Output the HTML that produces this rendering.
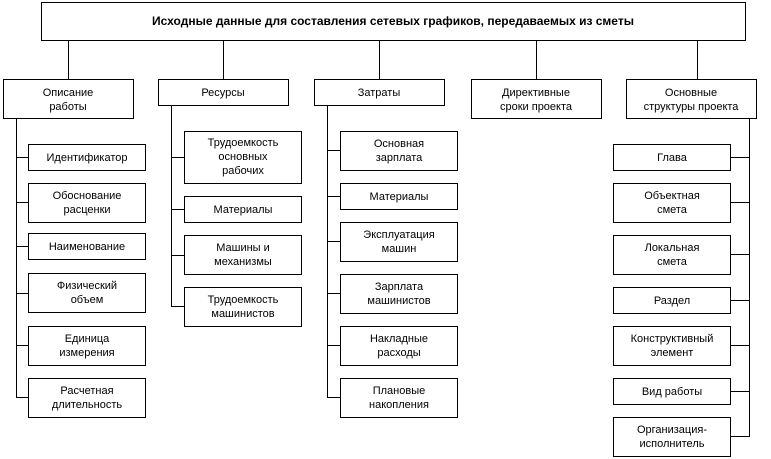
<!DOCTYPE html>
<html><head><meta charset="utf-8"><style>
html,body{margin:0;padding:0;background:#fff;}
svg{display:block;}
text{font-family:"Liberation Sans",Arial,sans-serif;font-size:11px;fill:#000;text-anchor:middle;}
rect{fill:#fff;stroke:#000;stroke-width:1;}
line{stroke:#000;stroke-width:1;}
</style></head><body>
<svg width="771" height="459" viewBox="0 0 771 459" xmlns="http://www.w3.org/2000/svg">
<rect x="41.5" y="2.5" width="704" height="38"/>
<text x="393" y="25" style="font-weight:bold;font-size:12px">Исходные данные для составления сетевых графиков, передаваемых из сметы</text>
<line x1="68.5" y1="41" x2="68.5" y2="80"/>
<line x1="223.5" y1="41" x2="223.5" y2="80"/>
<line x1="379.5" y1="41" x2="379.5" y2="80"/>
<line x1="536.5" y1="41" x2="536.5" y2="80"/>
<line x1="697.5" y1="41" x2="697.5" y2="80"/>
<rect x="3.5" y="79.5" width="130" height="39"/>
<text x="68" y="96">Описание</text><text x="68" y="110">работы</text>
<rect x="158.5" y="79.5" width="130" height="26"/>
<text x="223" y="96">Ресурсы</text>
<rect x="314.5" y="79.5" width="130" height="26"/>
<text x="379" y="96">Затраты</text>
<rect x="471.5" y="79.5" width="130" height="39"/>
<text x="536" y="96">Директивные</text><text x="536" y="110">сроки проекта</text>
<rect x="626.5" y="79.5" width="130" height="39"/>
<text x="691" y="96">Основные</text><text x="691" y="110">структуры проекта</text>

<line x1="16.5" y1="119" x2="16.5" y2="398"/>
<line x1="16" y1="157.5" x2="28" y2="157.5"/><rect x="28.5" y="144.5" width="117" height="26"/><text x="87" y="161">Идентификатор</text>
<line x1="16" y1="202.5" x2="28" y2="202.5"/><rect x="28.5" y="183.5" width="117" height="39"/><text x="87" y="199">Обоснование</text><text x="87" y="213">расценки</text>
<line x1="16" y1="246.5" x2="28" y2="246.5"/><rect x="28.5" y="233.5" width="117" height="26"/><text x="87" y="250">Наименование</text>
<line x1="16" y1="293.5" x2="28" y2="293.5"/><rect x="28.5" y="273.5" width="117" height="39"/><text x="87" y="289">Физический</text><text x="87" y="303">объем</text>
<line x1="16" y1="345.5" x2="28" y2="345.5"/><rect x="28.5" y="326.5" width="117" height="39"/><text x="87" y="342">Единица</text><text x="87" y="356">измерения</text>
<line x1="16" y1="397.5" x2="28" y2="397.5"/><rect x="28.5" y="378.5" width="117" height="39"/><text x="87" y="394">Расчетная</text><text x="87" y="408">длительность</text>

<line x1="171.5" y1="106" x2="171.5" y2="307"/>
<line x1="171" y1="157.5" x2="184" y2="157.5"/><rect x="184.5" y="131.5" width="117" height="52"/><text x="243" y="146">Трудоемкость</text><text x="243" y="160">основных</text><text x="243" y="174">рабочих</text>
<line x1="171" y1="209.5" x2="184" y2="209.5"/><rect x="184.5" y="196.5" width="117" height="26"/><text x="243" y="213">Материалы</text>
<line x1="171" y1="255.5" x2="184" y2="255.5"/><rect x="184.5" y="235.5" width="117" height="39"/><text x="243" y="251">Машины и</text><text x="243" y="265">механизмы</text>
<line x1="171" y1="306.5" x2="184" y2="306.5"/><rect x="184.5" y="287.5" width="117" height="39"/><text x="243" y="303">Трудоемкость</text><text x="243" y="317">машинистов</text>

<line x1="327.5" y1="106" x2="327.5" y2="398"/>
<line x1="327" y1="150.5" x2="340" y2="150.5"/><rect x="340.5" y="131.5" width="117" height="39"/><text x="399" y="147">Основная</text><text x="399" y="161">зарплата</text>
<line x1="327" y1="196.5" x2="340" y2="196.5"/><rect x="340.5" y="183.5" width="117" height="26"/><text x="399" y="200">Материалы</text>
<line x1="327" y1="241.5" x2="340" y2="241.5"/><rect x="340.5" y="222.5" width="117" height="39"/><text x="399" y="238">Эксплуатация</text><text x="399" y="252">машин</text>
<line x1="327" y1="293.5" x2="340" y2="293.5"/><rect x="340.5" y="274.5" width="117" height="39"/><text x="399" y="290">Зарплата</text><text x="399" y="304">машинистов</text>
<line x1="327" y1="345.5" x2="340" y2="345.5"/><rect x="340.5" y="326.5" width="117" height="39"/><text x="399" y="342">Накладные</text><text x="399" y="356">расходы</text>
<line x1="327" y1="397.5" x2="340" y2="397.5"/><rect x="340.5" y="378.5" width="117" height="39"/><text x="399" y="394">Плановые</text><text x="399" y="408">накопления</text>

<line x1="749.5" y1="119" x2="749.5" y2="437"/>
<line x1="731" y1="157.5" x2="749" y2="157.5"/><rect x="613.5" y="144.5" width="117" height="26"/><text x="672" y="161">Глава</text>
<line x1="731" y1="202.5" x2="749" y2="202.5"/><rect x="613.5" y="183.5" width="117" height="39"/><text x="672" y="199">Объектная</text><text x="672" y="213">смета</text>
<line x1="731" y1="254.5" x2="749" y2="254.5"/><rect x="613.5" y="235.5" width="117" height="39"/><text x="672" y="251">Локальная</text><text x="672" y="265">смета</text>
<line x1="731" y1="300.5" x2="749" y2="300.5"/><rect x="613.5" y="287.5" width="117" height="26"/><text x="672" y="304">Раздел</text>
<line x1="731" y1="345.5" x2="749" y2="345.5"/><rect x="613.5" y="326.5" width="117" height="39"/><text x="672" y="342">Конструктивный</text><text x="672" y="356">элемент</text>
<line x1="731" y1="391.5" x2="749" y2="391.5"/><rect x="613.5" y="378.5" width="117" height="26"/><text x="672" y="395">Вид работы</text>
<line x1="731" y1="436.5" x2="749" y2="436.5"/><rect x="613.5" y="417.5" width="117" height="39"/><text x="672" y="433">Организация-</text><text x="672" y="447">исполнитель</text>
</svg>
</body></html>
